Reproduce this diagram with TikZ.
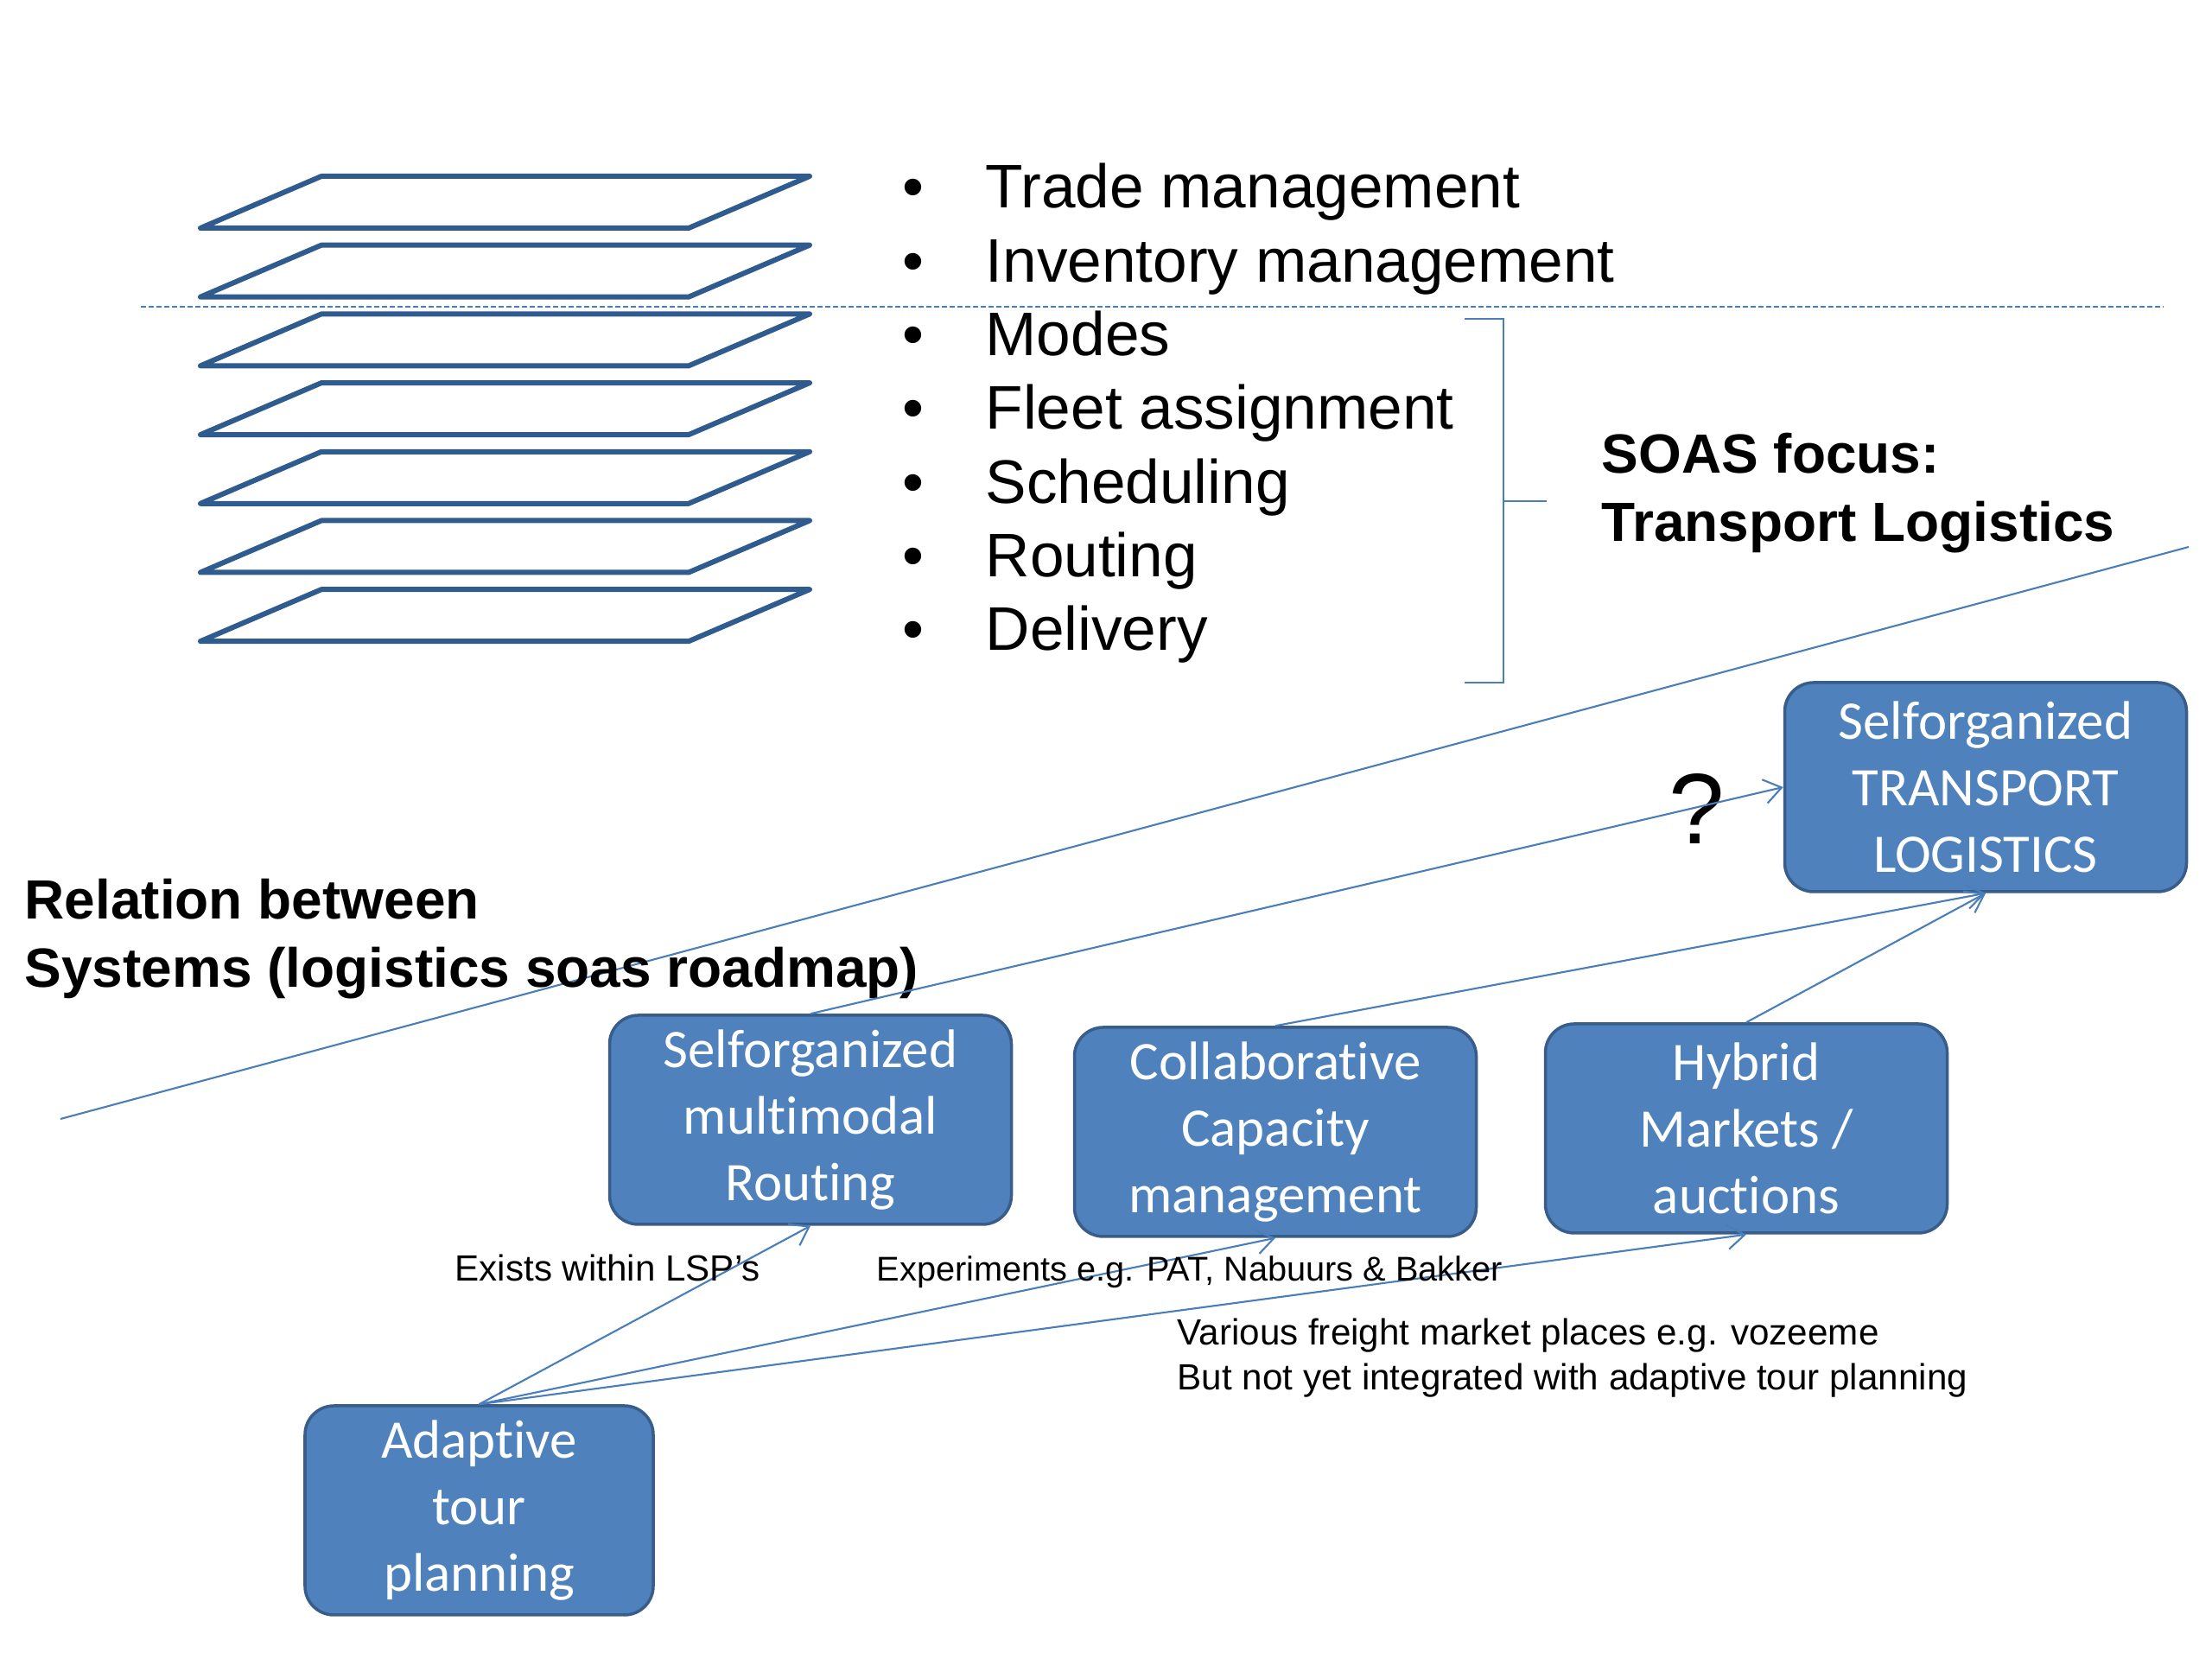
\documentclass[tikz,border=0pt]{standalone}
\usepackage{fontspec}
\setmainfont{Liberation Sans}
\newfontfamily\boxfont[Ligatures=NoCommon]{Carlito}
\usetikzlibrary{arrows.meta}
\definecolor{boxblue}{HTML}{4F81BD}
\definecolor{boxedge}{HTML}{385D8A}
\definecolor{linkblue}{HTML}{4A7EBB}
\definecolor{plateblue}{HTML}{2F5B8F}

\begin{document}
\begin{tikzpicture}[
 sysbox/.style={rounded corners=9.5pt,draw=boxedge,fill=boxblue,line width=1pt,minimum width=4.65cm,minimum height=2.42cm,align=center,inner sep=0pt,text=white,font=\boxfont\fontsize{17.9}{21.9}\selectfont},
 link/.style={draw=linkblue,line width=0.6pt,-{Straight Barb[length=2mm,width=2.8mm]}},
 layerplate/.style={draw=plateblue,line width=1.7pt,line join=round},
 heading/.style={inner sep=0pt,align=left,font=\bfseries\fontsize{18.2}{22.5}\selectfont},
 note/.style={inner sep=0pt,align=left,font=\fontsize{12}{14.8}\selectfont}]
\fill[white] (0,0) rectangle (25.6,19.2);
\useasboundingbox (0,0) rectangle (25.6,19.2);

% stacked planes
\foreach \i in {0,...,6}
 \draw[layerplate] (2.32,{16.56-0.797*\i}) -- ++(1.40,0.60) -- ++(5.65,0) -- ++(-1.40,-0.60) -- cycle;

\coordinate (dashA) at (1.63,15.65);
\coordinate (dashB) at (25.03,15.65);
\draw[linkblue,line width=0.6pt,dash pattern=on 0.06cm off 0.03cm] (dashA) -- (dashB);

\foreach \txt [count=\i from 0] in {Trade management,Inventory management,Modes,Fleet assignment,Scheduling,Routing,Delivery}
 \node[anchor=base west,inner sep=0pt,font=\fontsize{20.25}{24}\selectfont] (item\i) at (10.44,{16.79-0.853*\i}) {\makebox[0.96cm][l]{•}\txt};

% bracket round the transport levels
\coordinate (brTop) at (16.95,15.51);
\coordinate (brBot) at (16.95,11.30);
\coordinate (brMid) at (17.40,13.40);
\draw[linkblue,line width=0.6pt] (brTop) -- (17.40,15.51) -- (17.40,11.30) -- (brBot);
\draw[linkblue,line width=0.6pt] (brMid) -- ++(0.50,0);

\node[heading,anchor=west] (focus) at (18.53,13.49) {SOAS focus:\\Transport Logistics};

\coordinate (diagA) at (0.70,6.25);
\coordinate (diagB) at (25.33,12.87);
\draw[linkblue,line width=0.6pt] (diagA) -- (diagB);

\node[heading,anchor=west] (relation) at (0.28,8.33) {Relation between\\Systems (logistics soas roadmap)};

% systems
\node[sysbox] (transport) at (22.98,10.09) {Selforganized\\TRANSPORT\\LOGISTICS};
\node[sysbox] (routing) at (9.38,6.24) {Selforganized\\multimodal\\Routing};
\node[sysbox] (capacity) at (14.76,6.10) {Collaborative\\Capacity\\management};
\node[sysbox] (markets) at (20.21,6.14) {Hybrid\\Markets /\\auctions};
\node[sysbox,minimum width=4.03cm] (adaptive) at (5.545,1.72) {Adaptive\\tour\\planning};

\node[inner sep=0pt,font=\fontsize{33}{40}\selectfont] (qmark) at (19.64,9.84) {?};

\draw[link] (adaptive.north) -- (routing.south);
\draw[link] (adaptive.north) -- (capacity.south);
\draw[link] (adaptive.north) -- (markets.south);
\draw[link] (routing.north) -- (transport.west);
\draw[link] (capacity.north) -- (transport.south);
\draw[link] (markets.north) -- (transport.south);

\node[note,anchor=base west] (lsp) at (5.26,4.375) {Exists within LSP’s};
\node[note,anchor=base west,font=\fontsize{11.3}{14.8}\selectfont] (experiments) at (10.14,4.375) {Experiments e.g. PAT, Nabuurs \& Bakker};
\node[note,anchor=west] (freight) at (13.62,3.48) {Various freight market places e.g. vozeeme\\But not yet integrated with adaptive tour planning};
\end{tikzpicture}
\end{document}
